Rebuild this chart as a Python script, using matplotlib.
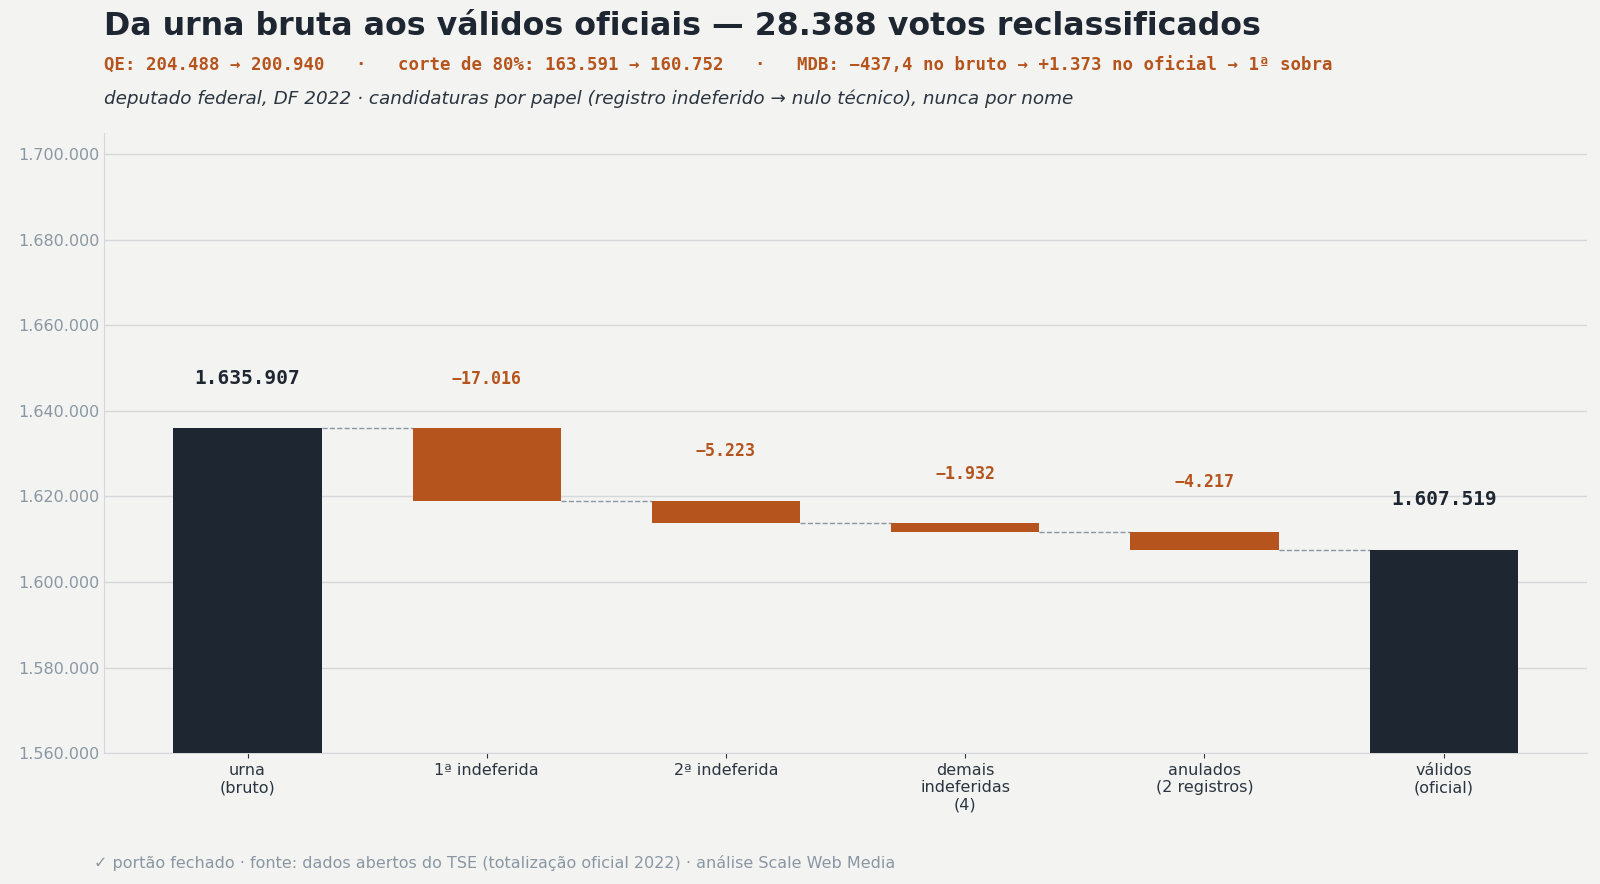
import matplotlib.pyplot as plt
from matplotlib.ticker import FuncFormatter

categories = ['urna\n(bruto)', '1ª indeferida', '2ª indeferida',
              'demais\nindeferidas\n(4)', 'anulados\n(2 registros)', 'válidos\n(oficial)']
start_total = 1635907
deltas = [-17016, -5223, -1932, -4217]
end_total = 1607519

DARK = '#1d2631'
ORANGE = '#b5541c'
BG = '#f3f3f1'


def fmt(v):
    return f'{v:,.0f}'.replace(',', '.')


fig = plt.figure(figsize=(16, 8.84), dpi=100, facecolor=BG)
ax = fig.add_axes([0.065, 0.148, 0.927, 0.702], facecolor=BG)

w = 0.62
bottoms, heights, colors = [], [], []
bottoms.append(1560000); heights.append(start_total - 1560000); colors.append(DARK)
level = start_total
for d in deltas:
    bottoms.append(level + d); heights.append(-d); colors.append(ORANGE)
    level += d
bottoms.append(1560000); heights.append(end_total - 1560000); colors.append(DARK)

x = list(range(len(categories)))
ax.bar(x, heights, bottom=bottoms, width=w, color=colors, zorder=3)

# conectores
levels = [start_total]
for d in deltas:
    levels.append(levels[-1] + d)
for i, lv in enumerate(levels):
    ax.plot([i + w / 2, i + 1 - w / 2], [lv, lv], ls='--', lw=1, color='#8a97a3', zorder=2)

off = 9500
ax.text(0, start_total + off, fmt(start_total), ha='center', va='bottom',
        family='DejaVu Sans Mono', fontsize=14, fontweight='bold', color=DARK)
lv = start_total
for i, d in enumerate(deltas, start=1):
    ax.text(i, lv + off, '−' + fmt(-d), ha='center', va='bottom',
            family='DejaVu Sans Mono', fontsize=12, fontweight='bold', color=ORANGE)
    lv += d
ax.text(5, end_total + off, fmt(end_total), ha='center', va='bottom',
        family='DejaVu Sans Mono', fontsize=14, fontweight='bold', color=DARK)

ax.set_ylim(1560000, 1705000)
ax.set_xlim(-0.6, 5.6)
ax.set_yticks(range(1560000, 1700001, 20000))
ax.yaxis.set_major_formatter(FuncFormatter(lambda v, p: fmt(v)))
ax.set_xticks(x)
ax.set_xticklabels(categories, fontsize=11.5, color='#2b3540')
ax.tick_params(axis='y', labelsize=11.5, colors='#8a97a3', length=0)
ax.tick_params(axis='x', color='#2b3540')
ax.grid(axis='y', color='#d5d8da', lw=1, zorder=0)
for s in ['top', 'right']:
    ax.spines[s].set_visible(False)
for s in ['left', 'bottom']:
    ax.spines[s].set_color('#d5d8da')

fig.text(0.065, 0.97, 'Da urna bruta aos válidos oficiais — 28.388 votos reclassificados',
         fontsize=22.8, fontweight='bold', color=DARK, va='center')
fig.text(0.065, 0.926, 'QE: 204.488 → 200.940   ·   corte de 80%: 163.591 → 160.752   ·   '
         'MDB: −437,4 no bruto → +1.373 no oficial → 1ª sobra',
         family='DejaVu Sans Mono', fontsize=12.5, fontweight='bold', color=ORANGE, va='center')
fig.text(0.065, 0.888, 'deputado federal, DF 2022 · candidaturas por papel (registro indeferido → '
         'nulo técnico), nunca por nome', fontsize=13.2, style='italic', color='#2b3540', va='center')
fig.text(0.059, 0.024, '✓ portão fechado · fonte: dados abertos do TSE (totalização oficial 2022) · '
         'análise Scale Web Media', fontsize=11.5, color='#8a97a3', va='center')

fig.savefig('out.png', dpi=100, facecolor=BG)
